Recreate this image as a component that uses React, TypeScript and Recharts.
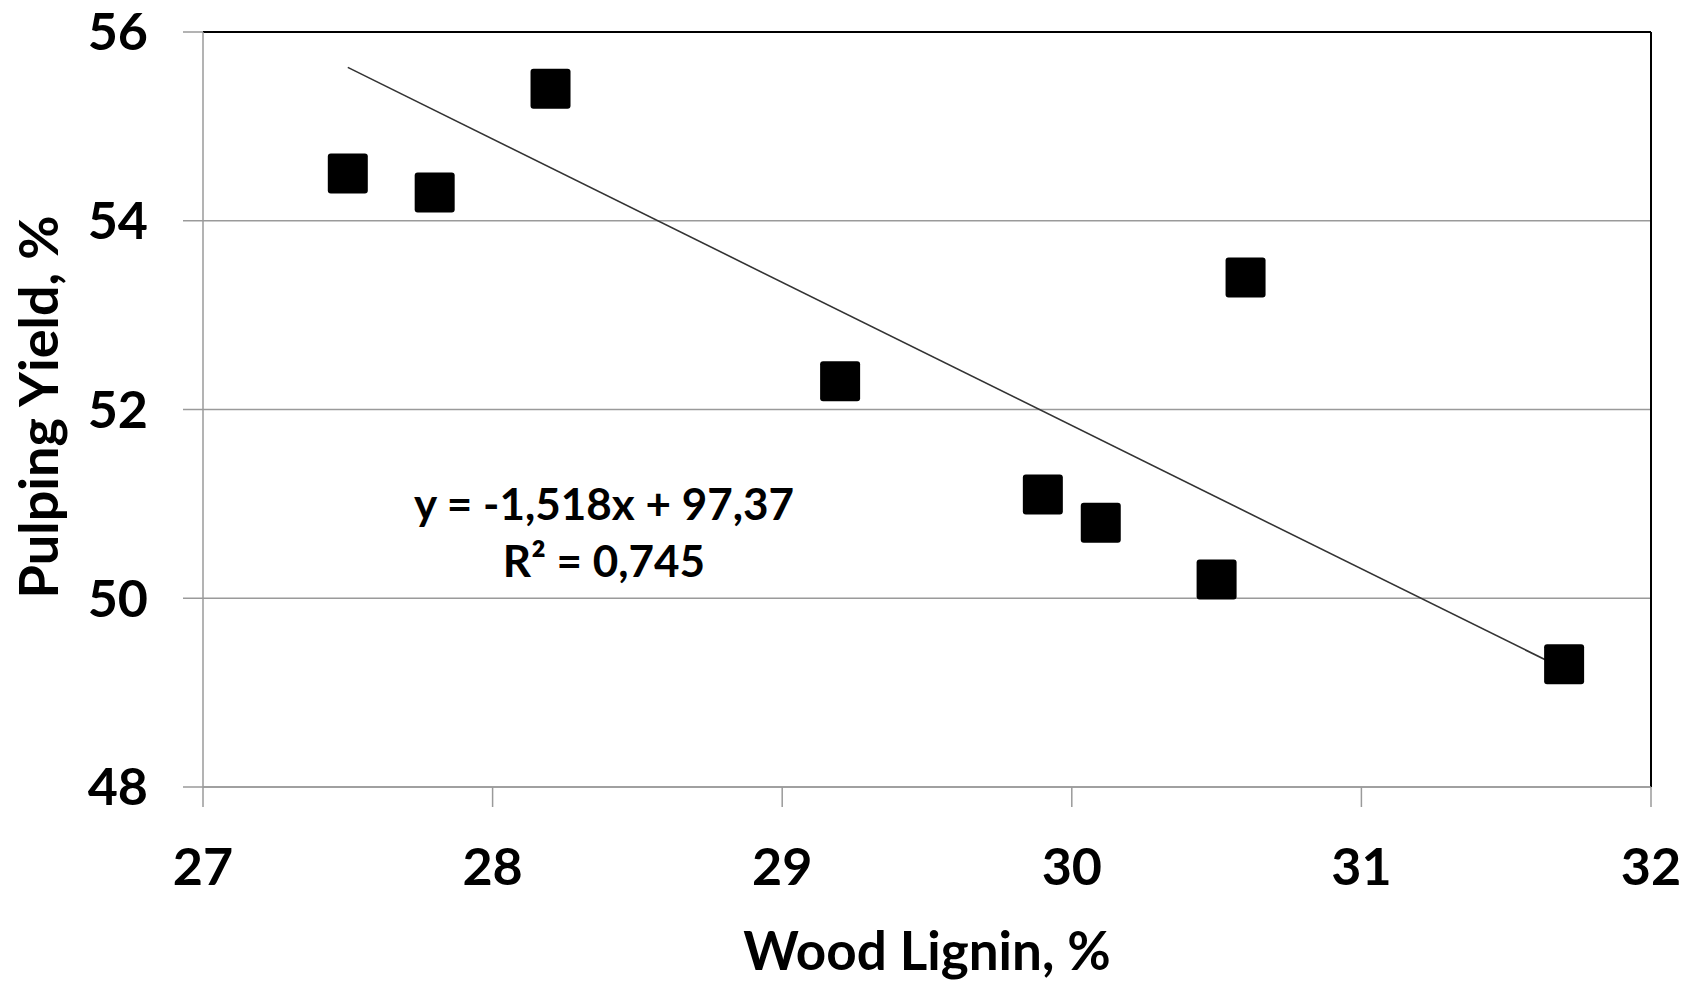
import React from "react";
import {
  CartesianGrid,
  ReferenceLine,
  Scatter,
  ScatterChart,
  XAxis,
  YAxis,
} from "recharts";

// wood lignin (%) vs pulping yield (%)
const ligninValues = [27.5, 27.8, 28.2, 29.2, 29.9, 30.1, 30.5, 30.6, 31.7];
const yieldValues = [54.5, 54.3, 55.4, 52.3, 51.1, 50.8, 50.2, 53.4, 49.3];

const xTicks = [27, 28, 29, 30, 31, 32];
const yTicks = [48, 50, 52, 54, 56];

// linear trend as printed on the chart
const trendSlope = -1.518;
const trendIntercept = 97.37;
const trendRange = [27.5, 31.7];
const equationLines = ["y = -1,518x + 97,37", "R² = 0,745"];

const points = ligninValues.map((x, i) => ({ x, y: yieldValues[i] }));

const FONT = "Lato, 'Open Sans', sans-serif";
const GREY = "#9a9a9a";

const tickStyle = { fontSize: 52, fontFamily: FONT, fontWeight: 700, fill: "#000" };

function SquareMarker(props: any) {
  const { cx, cy } = props;
  if (cx == null || cy == null) return null;
  return <rect x={cx - 20} y={cy - 20} width={40} height={40} rx={3} fill="#000" />;
}

export default function App() {
  const trendSegment = trendRange.map((x) => ({ x, y: trendSlope * x + trendIntercept }));

  return (
    <div style={{ position: "absolute", left: 0, top: 0, background: "#fff" }}>
      <ScatterChart
        width={1692}
        height={983}
        margin={{ top: 32, right: 41, bottom: 0, left: 0 }}
      >
        <CartesianGrid vertical={false} stroke={GREY} strokeWidth={1.5} />
        <XAxis
          type="number"
          dataKey="x"
          domain={[27, 32]}
          ticks={xTicks}
          height={196}
          tickSize={20}
          tickMargin={41}
          stroke={GREY}
          strokeWidth={1.5}
          tick={tickStyle}
          allowDataOverflow
        />
        <YAxis
          type="number"
          dataKey="y"
          domain={[48, 56]}
          ticks={yTicks}
          width={203}
          tickSize={20}
          tickMargin={35}
          stroke={GREY}
          strokeWidth={1.5}
          tick={tickStyle}
          allowDataOverflow
        />
        <ReferenceLine y={56} stroke="#000" strokeWidth={2} />
        <ReferenceLine x={32} stroke="#000" strokeWidth={2} />
        <ReferenceLine segment={trendSegment} stroke="#333" strokeWidth={1.6} />
        <Scatter data={points} shape={<SquareMarker />} isAnimationActive={false} />
        <text
          x={927}
          y={970}
          textAnchor="middle"
          fontSize={53}
          fontFamily={FONT}
          fontWeight={700}
          fill="#000"
        >
          Wood Lignin, %
        </text>
        <text
          x={58}
          y={407}
          transform="rotate(-90, 58, 407)"
          textAnchor="middle"
          fontSize={54}
          fontFamily={FONT}
          fontWeight={700}
          fill="#000"
        >
          Pulping Yield, %
        </text>
        {equationLines.map((line, i) => (
          <text
            key={line}
            x={604}
            y={520 + i * 57}
            textAnchor="middle"
            fontSize={44}
            fontFamily={FONT}
            fontWeight={700}
            fill="#000"
          >
            {line}
          </text>
        ))}
      </ScatterChart>
    </div>
  );
}
